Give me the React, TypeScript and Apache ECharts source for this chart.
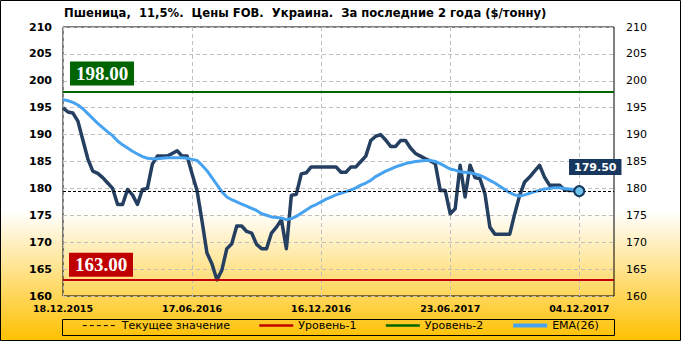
import React, { useEffect, useRef } from 'react';
import * as echarts from 'echarts';

const titleText = 'Пшеница,  11,5%.  Цены FOB.  Украина.  За последние 2 года ($/тонну)';
const tickLabels = ['18.12.2015', '17.06.2016', '16.12.2016', '23.06.2017', '04.12.2017'];
const tickStep = 26;
const categoryCount = 112;
const categories = Array.from({ length: categoryCount }, (_, i) => 'c' + i);

const price = [
  195, 194.2, 194, 192.5, 189, 185.5, 183.2, 182.8, 182, 181,
  180, 177, 177, 179.8, 178.8, 177, 179.8, 180, 184.5, 186,
  186, 186, 186.5, 187, 186, 186, 182.7, 179.6, 174, 168,
  166, 163, 164.8, 168.8, 169.7, 173, 173, 172, 171.7, 169.6,
  168.8, 168.8, 171.7, 172.8, 174.2, 168.8, 178.7, 178.9, 182.7, 182.9,
  184, 184, 184, 184, 184, 184, 183, 183, 184, 184,
  185, 186, 188.9, 189.7, 190, 189, 187.8, 187.8, 188.9, 188.9,
  187.5, 186.5, 186, 185.5, 185.1, 184.6, 179.6, 179.6, 175.3, 176.2,
  184.3, 178.4, 184.3, 182, 181.8, 179, 172.8, 171.5, 171.5, 171.5,
  171.5, 175.3, 178.7, 181.2, 182.1, 183.2, 184.3, 182.1, 180.6, 180.6,
  180.6, 179.8, 179.6, 179.6, 179.5,
];

const ema = [
  196.5, 196.3, 196, 195.5, 194.8, 193.9, 193, 192.1, 191.3, 190.5,
  189.8, 188.8, 188.1, 187.5, 186.9, 186.4, 185.9, 185.6, 185.5, 185.5,
  185.6, 185.7, 185.7, 185.7, 185.7, 185.6, 185.4, 185.2, 184.3, 183.3,
  182, 180.7, 179.4, 178.4, 177.9, 177.5, 177.1, 176.7, 176.3, 175.9,
  175.3, 175, 174.7, 174.6, 174.5, 174.2, 174.4, 174.8, 175.4, 176,
  176.6, 177, 177.5, 178, 178.4, 178.8, 179.1, 179.4, 179.7, 180.1,
  180.6, 181, 181.5, 182.2, 182.7, 183.2, 183.6, 184, 184.3, 184.6,
  184.8, 185, 185.1, 185.2, 185.2, 185, 184.6, 184.1, 183.6, 183.4,
  183.1, 183, 182.9, 182.7, 182.4, 182, 181.5, 181, 180.4, 179.8,
  179.2, 178.8, 178.6, 178.8, 179.1, 179.4, 179.6, 179.9, 180, 180.1,
  180.1, 180, 179.9, 179.8, 179.6,
];

const currentValue = 179.5;
const level1 = 163;
const level2 = 198;
const yMin = 160;
const yMax = 210;
const yStep = 5;
const legendNames = ['Текущее значение', 'Уровень-1', 'Уровень-2', 'EMA(26)'];

const W = 681;
const H = 341;
const GRID = { left: 63, right: 67, top: 27, bottom: 45 };

export default function App() {
  const ref = useRef<HTMLDivElement>(null);

  useEffect(() => {
    document.body.style.margin = '0';
    if (!ref.current) return;
    const chart = echarts.init(ref.current, undefined, { renderer: 'svg' });
    const font = 'DejaVu Sans';
    const lastIdx = price.length - 1;

    chart.setOption({
      animation: false,
      backgroundColor: new echarts.graphic.LinearGradient(0, 0, 0, 1, [
        { offset: 0, color: '#ffffff' },
        { offset: 0.62, color: '#ffffff' },
        { offset: 1, color: '#ffc000' },
      ]),
      title: {
        text: titleText,
        left: 64,
        top: 7,
        padding: 0,
        textStyle: { fontFamily: font, fontSize: 11.6, fontWeight: 'bold', color: '#000' },
      },
      grid: {
        ...GRID,
        show: true,
        borderColor: '#000',
        borderWidth: 1,
        backgroundColor: 'transparent',
      },
      legend: {
        data: [
          { name: legendNames[0], lineStyle: { type: [4, 3], width: 1, color: '#000' } },
          { name: legendNames[1], lineStyle: { width: 2.5, color: '#c00000' } },
          { name: legendNames[2], lineStyle: { width: 2.5, color: '#006400' } },
          { name: legendNames[3], lineStyle: { width: 4, color: '#47a3f0' } },
        ],
        left: 'center',
        top: 320,
        padding: 0,
        itemWidth: 34,
        itemHeight: 14,
        itemGap: 28,
        itemStyle: { color: 'rgba(0,0,0,0)', borderColor: 'rgba(0,0,0,0)', borderWidth: 0, opacity: 0 },
        textStyle: { fontFamily: font, fontSize: 11, color: '#000' },
      },
      xAxis: {
        type: 'category',
        data: categories,
        boundaryGap: false,
        axisLine: { show: false },
        axisTick: { show: false },
        axisLabel: {
          interval: (i: number) => i % tickStep === 0 && i / tickStep < tickLabels.length,
          formatter: (_v: string, i: number) => tickLabels[i / tickStep] ?? '',
          fontFamily: font,
          fontSize: 9.5,
          fontWeight: 'bold',
          color: '#000',
          margin: 7,
        },
        splitLine: {
          show: true,
          interval: (i: number) => i % tickStep === 0,
          lineStyle: { color: '#bfbfbf', type: [4, 3], width: 1 },
        },
      },
      yAxis: [
        {
          type: 'value',
          min: yMin,
          max: yMax,
          interval: yStep,
          position: 'left',
          axisLine: { show: false },
          axisTick: { show: false },
          axisLabel: { fontFamily: font, fontSize: 11, fontWeight: 'bold', color: '#000', margin: 11 },
          splitLine: { lineStyle: { color: '#bfbfbf', type: [4, 3], width: 1 } },
        },
        {
          type: 'value',
          min: yMin,
          max: yMax,
          interval: yStep,
          position: 'right',
          axisLine: { show: false },
          axisTick: { show: false },
          axisLabel: { fontFamily: font, fontSize: 11, color: '#000', margin: 12 },
          splitLine: { show: false },
        },
      ],
      series: [
        {
          name: 'Текущее значение',
          type: 'line',
          data: [],
          symbol: 'none',
          color: '#000',
          lineStyle: { color: '#000', width: 1, type: [3, 2] },
          markLine: {
            silent: true,
            symbol: 'none',
            label: { show: false },
            lineStyle: { color: '#000', width: 1, type: [3, 2] },
            data: [{ yAxis: currentValue }],
          },
        },
        {
          name: 'Уровень-1',
          type: 'line',
          data: [],
          symbol: 'none',
          color: '#c00000',
          lineStyle: { color: '#c00000', width: 2.5 },
          markLine: {
            silent: true,
            symbol: 'none',
            label: { show: false },
            lineStyle: { color: '#c00000', width: 2, type: 'solid' },
            data: [{ yAxis: level1 }],
          },
        },
        {
          name: 'Уровень-2',
          type: 'line',
          data: [],
          symbol: 'none',
          color: '#006400',
          lineStyle: { color: '#006400', width: 2.5 },
          markLine: {
            silent: true,
            symbol: 'none',
            label: { show: false },
            lineStyle: { color: '#006400', width: 2, type: 'solid' },
            data: [{ yAxis: level2 }],
          },
        },
        {
          name: 'Цена',
          type: 'line',
          data: price,
          symbol: 'none',
          color: '#243f60',
          lineStyle: { color: '#243f60', width: 3.5, join: 'round' },
          z: 3,
          markPoint: {
            silent: true,
            symbol: 'circle',
            symbolSize: 10,
            itemStyle: { color: '#6ec3ea', borderColor: '#17375e', borderWidth: 2 },
            label: {
              show: true,
              position: 'top',
              distance: 10,
              offset: [16, 0],
              formatter: currentValue.toFixed(2),
              backgroundColor: '#17375e',
              padding: [2, 5, 2, 5],
              color: '#fff',
              fontFamily: font,
              fontWeight: 'bold',
              fontSize: 11,
              lineHeight: 12,
            },
            data: [{ coord: [categories[lastIdx], price[lastIdx]], value: price[lastIdx] }],
          },
        },
        {
          name: 'EMA(26)',
          type: 'line',
          data: ema,
          symbol: 'none',
          color: '#47a3f0',
          lineStyle: { color: '#47a3f0', width: 3, join: 'round' },
          z: 4,
        },
      ],
    });

    const p2 = chart.convertToPixel({ gridIndex: 0 }, [categories[0], level2]) as number[];
    const p1 = chart.convertToPixel({ gridIndex: 0 }, [categories[0], level1]) as number[];
    const plotW = W - GRID.left - GRID.right;

    const box = (x: number, y: number, fill: string, text: string) => ({
      type: 'group',
      children: [
        { type: 'rect', shape: { x, y, width: 64, height: 24 }, style: { fill } },
        {
          type: 'text',
          x: x + 32,
          y: y + 12,
          style: {
            text,
            fill: '#fff',
            font: 'bold 19px "Liberation Serif"',
            textAlign: 'center',
            textVerticalAlign: 'middle',
          },
        },
      ],
    });

    chart.setOption({
      graphic: [
        box(p2[0] + 7, p2[1] - 30, '#006400', level2.toFixed(2)),
        box(p1[0] + 6, p1[1] - 27, '#c00000', level1.toFixed(2)),
        {
          type: 'rect',
          shape: { x: GRID.left - 0.5, y: 319.5, width: plotW + 1, height: 16 },
          style: { fill: 'none', stroke: '#000', lineWidth: 1 },
          silent: true,
        },
        {
          type: 'rect',
          shape: { x: 0.5, y: 0.5, width: W - 1, height: H - 1 },
          style: { fill: 'none', stroke: '#000', lineWidth: 1 },
          silent: true,
        },
      ],
    });

    return () => chart.dispose();
  }, []);

  return <div ref={ref} style={{ width: W, height: H, position: 'absolute', left: 0, top: 0 }} />;
}
